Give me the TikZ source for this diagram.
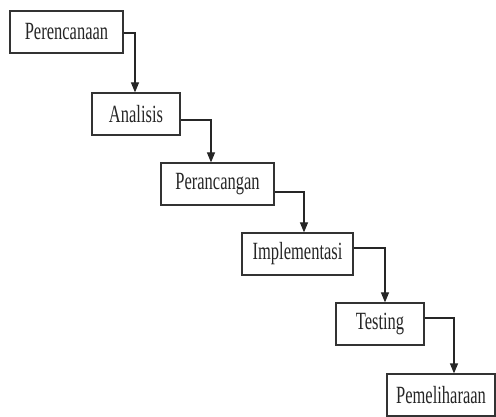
\documentclass[tikz,border=0pt]{standalone}
\usepackage{fontspec}
\setmainfont{Liberation Serif}
\usetikzlibrary{arrows.meta}
\begin{document}
\begin{tikzpicture}[x=1pt,y=-1pt,
  stage/.style={draw=black!80,line width=1.2pt,fill=white,inner sep=0pt,minimum height=42pt,text=black!85,
    font=\fontsize{16.5}{16.5}\selectfont},
  flow/.style={draw=black!85,line width=1.2pt,-{Triangle[length=10pt,width=8pt]}}]
\useasboundingbox[fill=white] (0,0) rectangle (496,417);
\node[stage,minimum width=113pt] (p1) at (66.5,32) {\scalebox{1}[1.5]{Perencanaan}};
\node[stage,minimum width=88pt] (p2) at (136,114) {\scalebox{1}[1.5]{Analisis}};
\node[stage,minimum width=113pt] (p3) at (217.5,184) {\scalebox{1}[1.5]{Perancangan}};
\node[stage,minimum width=111pt] (p4) at (297.5,254) {\scalebox{1}[1.5]{Implementasi}};
\node[stage,minimum width=88pt] (p5) at (380,324) {\scalebox{1}[1.5]{Testing}};
\node[stage,minimum width=108pt] (p6) at (441,395) {\scalebox{1}[1.5]{Pemeliharaan}};
\draw[flow] ([yshift=-1pt]p1.east) -| ([xshift=-1pt]p2.north);
\draw[flow] ([yshift=-6pt]p2.east) -| ([xshift=-6.5pt]p3.north);
\draw[flow] ([yshift=-8pt]p3.east) -| ([xshift=6.5pt]p4.north);
\draw[flow] ([yshift=6pt]p4.east) -| ([xshift=5pt]p5.north);
\draw[flow] ([yshift=6pt]p5.east) -| ([xshift=13pt]p6.north);
\end{tikzpicture}
\end{document}
